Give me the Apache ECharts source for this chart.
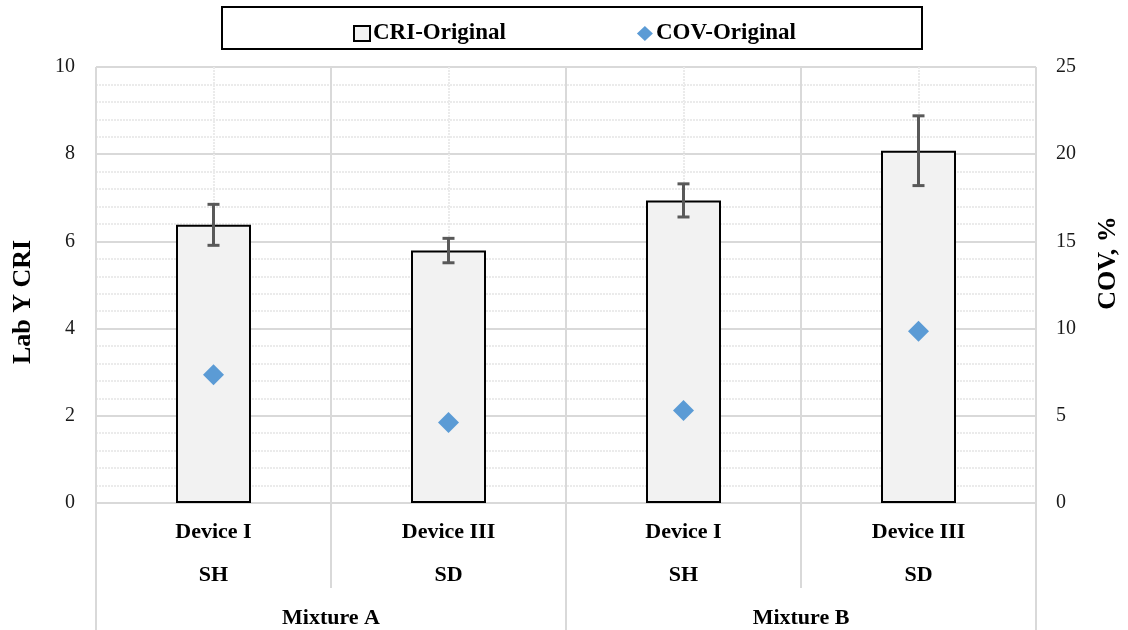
<!DOCTYPE html>
<html>
<head>
<meta charset="utf-8">
<script src="https://cdn.jsdelivr.net/npm/echarts@6/dist/echarts.min.js"></script>
<style>html,body{margin:0;padding:0;background:#fff;}#c{width:1128px;height:630px;}</style>
</head>
<body>
<div id="c"></div>
<script>
var devices = ['Device I', 'Device III', 'Device I', 'Device III'];
var shapes = ['SH', 'SD', 'SH', 'SD'];
var mixtures = ['Mixture A', 'Mixture B'];
var criValues = [6.38, 5.79, 6.94, 8.08];
var criErrors = [0.47, 0.28, 0.38, 0.80];
var covValues = [7.35, 4.62, 5.3, 9.85];
var leftTicks = [0, 10, 2];
var rightTicks = [0, 25, 5];

var FONT = '"Liberation Serif", "Times New Roman", serif';
var catLabels = devices.map(function (d, i) { return d + '\n' + shapes[i]; });
var errData = criValues.map(function (v, i) { return [i, v - criErrors[i], v + criErrors[i]]; });
var covData = covValues.map(function (v, i) { return [i, v]; });
var barData = criValues.map(function (v, i) { return [i, v]; });

var chart = echarts.init(document.getElementById('c'));
chart.setOption({
  animation: false,
  backgroundColor: '#fff',
  textStyle: { fontFamily: FONT },
  graphic: [
    { type: 'rect', shape: { x: 222, y: 7, width: 700, height: 42 }, style: { fill: '#fff', stroke: '#000', lineWidth: 2 }, z: -1 },
    { type: 'text', x: 23, y: 302, rotation: Math.PI / 2, style: { text: 'Lab Y CRI', font: 'bold 26px ' + FONT, fill: '#000', align: 'center', verticalAlign: 'middle' } },
    { type: 'text', x: 1108, y: 263, rotation: Math.PI / 2, style: { text: 'COV, %', font: 'bold 26px ' + FONT, fill: '#000', align: 'center', verticalAlign: 'middle' } }
  ],
  legend: {
    left: 348, top: 17,
    itemGap: 131, itemWidth: 16, itemHeight: 15,
    textStyle: { fontFamily: FONT, fontWeight: 'bold', fontSize: 23, color: '#000', padding: [0, 0, 0, -2] },
    data: [
      { name: 'CRI-Original', icon: 'rect', itemStyle: { color: '#f2f2f2', borderColor: '#000', borderWidth: 2 } },
      { name: 'COV-Original', icon: 'diamond', itemStyle: { color: '#5b9bd5', opacity: 1 } }
    ]
  },
  grid: { left: 96, right: 92, top: 67, bottom: 127 },
  xAxis: [
    {
      type: 'category', data: catLabels, gridIndex: 0, position: 'bottom',
      axisLine: { show: true, lineStyle: { color: '#d9d9d9', width: 2 } },
      axisTick: { show: true, length: 85, lineStyle: { color: '#d9d9d9', width: 2 } },
      axisLabel: { margin: 8, fontFamily: FONT, fontWeight: 'bold', fontSize: 22, color: '#000', lineHeight: 43 },
      splitLine: { show: false }
    },
    {
      type: 'category', data: mixtures, gridIndex: 0, position: 'bottom',
      axisLine: { show: false },
      axisTick: { show: true, length: 127, lineStyle: { color: '#d9d9d9', width: 2 } },
      axisLabel: { margin: 103, fontFamily: FONT, fontWeight: 'bold', fontSize: 22, color: '#000', lineHeight: 24 },
      splitLine: { show: false }
    },
    {
      type: 'value', min: 0, max: 4, interval: 1, gridIndex: 0, show: true,
      axisLine: { show: false }, axisTick: { show: false }, axisLabel: { show: false },
      splitLine: { show: true, lineStyle: { color: '#d9d9d9', width: 2 } },
      minorTick: { show: false, splitNumber: 2 },
      minorSplitLine: { show: true, lineStyle: { color: '#ebebeb', width: 2, type: [2, 1] } }
    }
  ],
  yAxis: [
    {
      type: 'value', min: leftTicks[0], max: leftTicks[1], interval: leftTicks[2],
      axisLine: { show: false }, axisTick: { show: false },
      axisLabel: { margin: 21, fontFamily: FONT, fontSize: 20, color: '#1a1a1a' },
      splitLine: { show: true, lineStyle: { color: '#d9d9d9', width: 2 } },
      minorTick: { show: false, splitNumber: 5 },
      minorSplitLine: { show: true, lineStyle: { color: '#ebebeb', width: 2, type: [2, 1] } }
    },
    {
      type: 'value', min: rightTicks[0], max: rightTicks[1], interval: rightTicks[2], position: 'right',
      axisLine: { show: false }, axisTick: { show: false },
      axisLabel: { margin: 20, fontFamily: FONT, fontSize: 20, color: '#1a1a1a' },
      splitLine: { show: false }
    }
  ],
  series: [
    {
      name: 'CRI-Original', type: 'bar', xAxisIndex: 0, yAxisIndex: 0,
      data: barData, barWidth: 75,
      itemStyle: { color: '#f2f2f2', borderColor: '#000', borderWidth: 2 }
    },
    {
      name: 'CRI-err', type: 'custom', xAxisIndex: 0, yAxisIndex: 0,
      data: errData, encode: { x: 0, y: [1, 2] }, z: 5,
      renderItem: function (params, api) {
        var x = api.value(0);
        var lo = api.coord([x, api.value(1)]);
        var hi = api.coord([x, api.value(2)]);
        var w = 6;
        var st = { stroke: '#595959', lineWidth: 3 };
        return {
          type: 'group', children: [
            { type: 'line', shape: { x1: lo[0], y1: lo[1], x2: hi[0], y2: hi[1] }, style: st },
            { type: 'line', shape: { x1: lo[0] - w, y1: lo[1], x2: lo[0] + w, y2: lo[1] }, style: st },
            { type: 'line', shape: { x1: hi[0] - w, y1: hi[1], x2: hi[0] + w, y2: hi[1] }, style: st }
          ]
        };
      }
    },
    {
      name: 'COV-Original', type: 'scatter', xAxisIndex: 0, yAxisIndex: 1,
      data: covData, symbol: 'diamond', symbolSize: [21, 21], z: 6,
      itemStyle: { color: '#5b9bd5', opacity: 1 }
    }
  ]
});
</script>
</body>
</html>
